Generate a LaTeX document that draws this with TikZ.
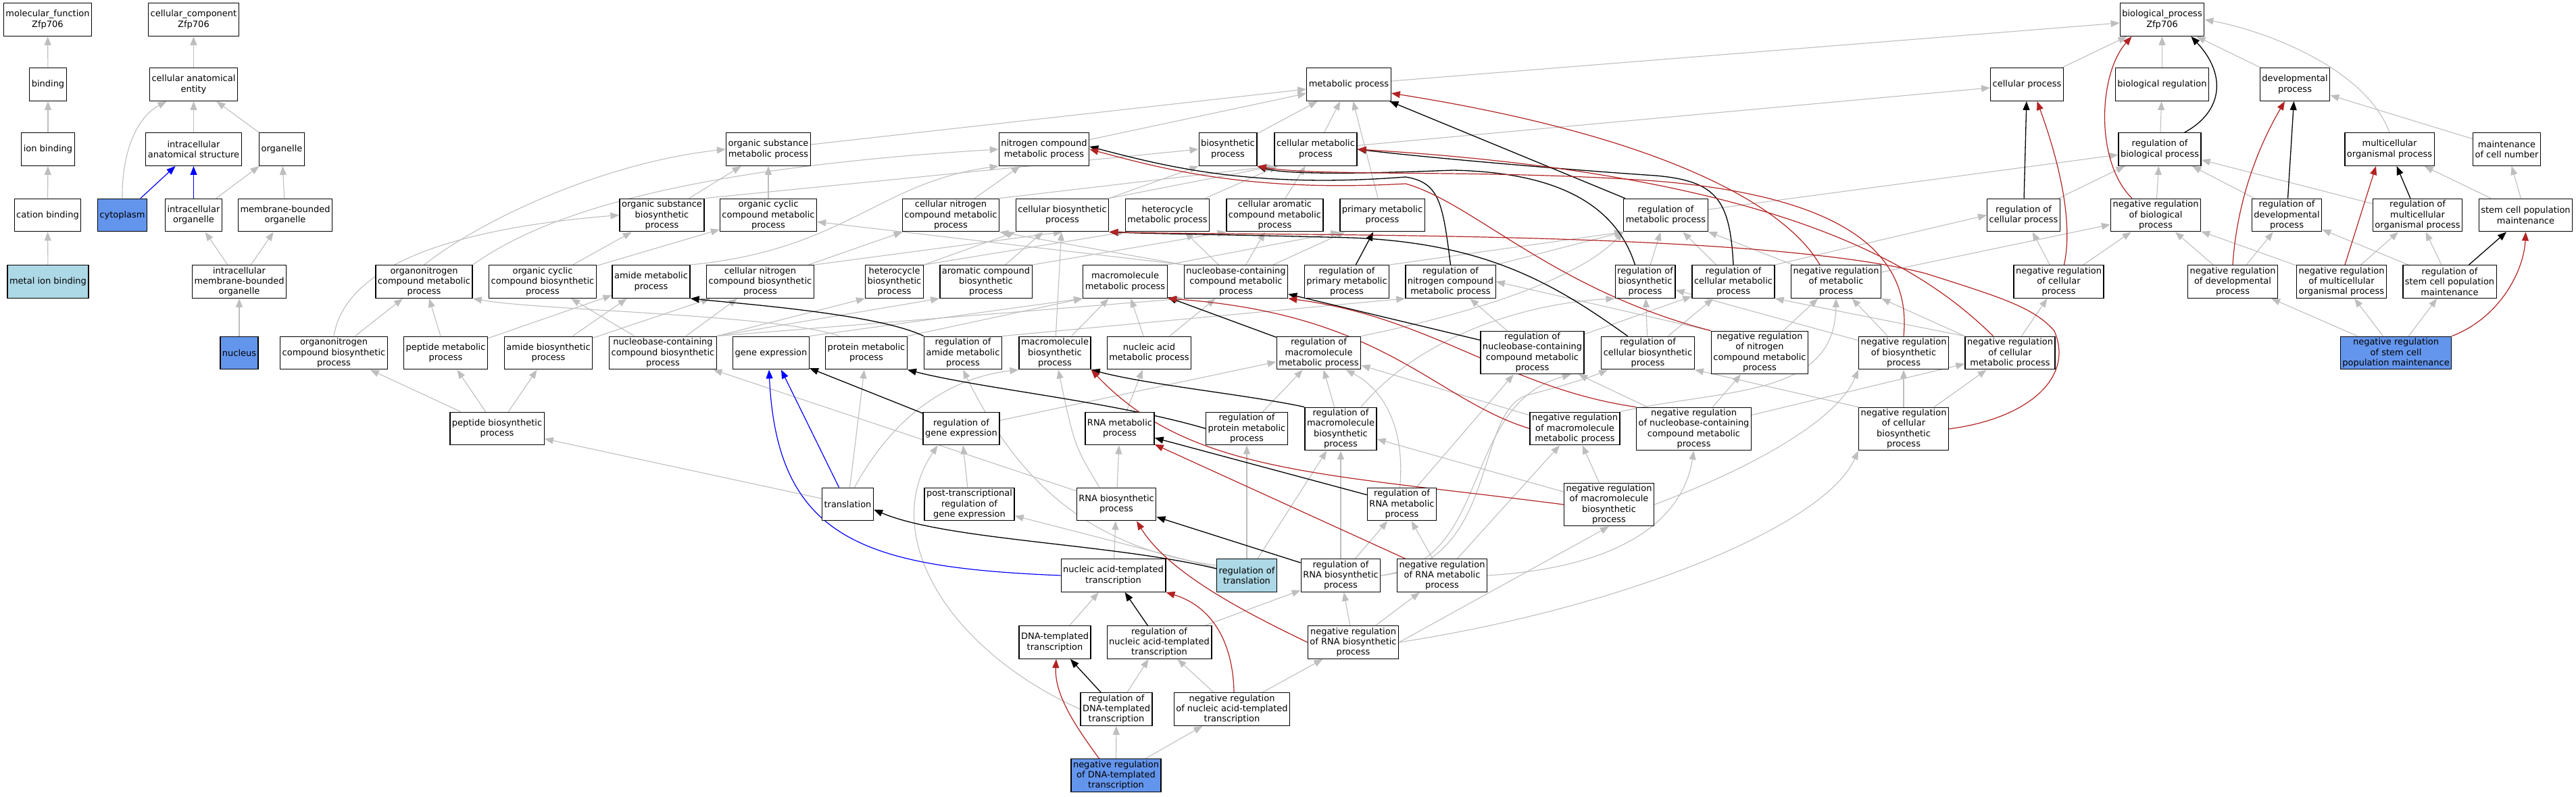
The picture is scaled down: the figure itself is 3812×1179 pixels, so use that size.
\documentclass[tikz,border=0pt]{standalone}
\usepackage{fontspec}
\setmainfont{DejaVu Sans}
\usetikzlibrary{arrows.meta}
\definecolor{isagray}{RGB}{190,190,190}
\definecolor{firebrick}{RGB}{178,34,34}
\definecolor{cornflower}{RGB}{100,149,237}
\definecolor{lightblue}{RGB}{173,216,230}
\pgfdeclarelayer{edges}
\pgfsetlayers{edges,main}

\begin{document}
\begin{tikzpicture}[x=1pt,y=-1pt,
    term/.style={draw=black,line width=1.3pt,fill=white,align=center,
      font=\fontsize{13}{15.3}\selectfont,inner xsep=3pt,inner ysep=1pt,
      minimum height=48.6pt},
    tallterm/.style={term,minimum height=63.5pt},
    hit/.style={fill=cornflower},
    seed/.style={fill=lightblue},
    isa/.style={draw=isagray,line width=1.1pt,-{Triangle[length=13pt,width=10pt]}},
    reg/.style={isa,draw=black,line width=1.3pt},
    negreg/.style={isa,draw=firebrick,line width=1.2pt},
    partof/.style={isa,draw=blue,line width=1.2pt}]

    \useasboundingbox (0,0) rectangle (3812,1179);

    % row 1
    \node[term] (mf) at (70.5,29) {molecular\_function\\Zfp706};
    \node[term] (cc) at (286.5,29) {cellular\_component\\Zfp706};
    \node[term] (bp) at (3199.5,29) {biological\_process\\Zfp706};
    % row 2
    \node[term] (bind) at (71,125) {binding};
    \node[term] (cae) at (286.5,125) {cellular anatomical\\entity};
    \node[term] (mp) at (1996,125) {metabolic process};
    \node[term] (cp) at (2999.5,125) {cellular process};
    \node[term] (breg) at (3199.5,125) {biological regulation};
    \node[term] (dev) at (3396,125) {developmental\\process};
    % row 3
    \node[term] (ionb) at (71,221) {ion binding};
    \node[term] (ias) at (286.5,221) {intracellular\\anatomical structure};
    \node[term] (org) at (417,221) {organelle};
    \node[term] (osmp) at (1137,221) {organic substance\\metabolic process};
    \node[term] (ncmp) at (1545,221) {nitrogen compound\\metabolic process};
    \node[term] (bsp) at (1817,221) {biosynthetic\\process};
    \node[term] (cmp) at (1947,221) {cellular metabolic\\process};
    \node[term] (rbp) at (3196,221) {regulation of\\biological process};
    \node[term] (mop) at (3536,221) {multicellular\\organismal process};
    \node[term] (mcn) at (3709.5,221) {maintenance\\of cell number};
    % row 4
    \node[term] (catb) at (70.5,318.5) {cation binding};
    \node[term,hit] (cyto) at (181,318.5) {cytoplasm};
    \node[term] (io) at (286.5,318.5) {intracellular\\organelle};
    \node[term] (mbo) at (422,318.5) {membrane-bounded\\organelle};
    \node[term] (osbp) at (979.5,318.5) {organic substance\\biosynthetic\\process};
    \node[term] (occmp) at (1137,318.5) {organic cyclic\\compound metabolic\\process};
    \node[term] (cncmp) at (1407,318.5) {cellular nitrogen\\compound metabolic\\process};
    \node[term] (cbp) at (1572,318.5) {cellular biosynthetic\\process};
    \node[term] (hmp) at (1727.5,318.5) {heterocycle\\metabolic process};
    \node[term] (cacmp) at (1886.5,318.5) {cellular aromatic\\compound metabolic\\process};
    \node[term] (pmp) at (2045.5,318.5) {primary metabolic\\process};
    \node[term] (rmp) at (2465,318.5) {regulation of\\metabolic process};
    \node[term] (rcp) at (2994.5,318.5) {regulation of\\cellular process};
    \node[term] (nrbp) at (3190,318.5) {negative regulation\\of biological\\process};
    \node[term] (rdp) at (3384,318.5) {regulation of\\developmental\\process};
    \node[term] (rmop) at (3577.5,318.5) {regulation of\\multicellular\\organismal process};
    \node[term] (scpm) at (3737.5,318.5) {stem cell population\\maintenance};
    % row 5
    \node[term,seed] (mib) at (71,417) {metal ion binding};
    \node[term] (imbo) at (354,417) {intracellular\\membrane-bounded\\organelle};
    \node[term] (oncmp) at (627.5,417) {organonitrogen\\compound metabolic\\process};
    \node[term] (occbp) at (803,417) {organic cyclic\\compound biosynthetic\\process};
    \node[term] (amp) at (963.5,417) {amide metabolic\\process};
    \node[term] (cncbp) at (1125,417) {cellular nitrogen\\compound biosynthetic\\process};
    \node[term] (hbp) at (1323.5,417) {heterocycle\\biosynthetic\\process};
    \node[term] (acbp) at (1459,417) {aromatic compound\\biosynthetic\\process};
    \node[term] (mmp) at (1665,417) {macromolecule\\metabolic process};
    \node[term] (nccmp) at (1829,417) {nucleobase-containing\\compound metabolic\\process};
    \node[term] (rpmp) at (1993,417) {regulation of\\primary metabolic\\process};
    \node[term] (rncmp) at (2146.5,417) {regulation of\\nitrogen compound\\metabolic process};
    \node[term] (rbsp) at (2434.5,417) {regulation of\\biosynthetic\\process};
    \node[term] (rcmp) at (2565,417) {regulation of\\cellular metabolic\\process};
    \node[term] (nrmp) at (2717,417) {negative regulation\\of metabolic\\process};
    \node[term] (nrcp) at (3046.5,417) {negative regulation\\of cellular\\process};
    \node[term] (nrdp) at (3304,417) {negative regulation\\of developmental\\process};
    \node[term] (nrmop) at (3465,417) {negative regulation\\of multicellular\\organismal process};
    \node[term] (rscpm) at (3625,417) {regulation of\\stem cell population\\maintenance};
    % row 6
    \node[term,hit] (nuc) at (354,522.5) {nucleus};
    \node[term] (oncbp) at (494,522.5) {organonitrogen\\compound biosynthetic\\process};
    \node[term] (pepmp) at (659.5,522.5) {peptide metabolic\\process};
    \node[term] (ambp) at (811.5,522.5) {amide biosynthetic\\process};
    \node[term] (nccbp) at (981,522.5) {nucleobase-containing\\compound biosynthetic\\process};
    \node[term] (gexp) at (1141,522.5) {gene expression};
    \node[term] (prmp) at (1282,522.5) {protein metabolic\\process};
    \node[term] (ramp) at (1425,522.5) {regulation of\\amide metabolic\\process};
    \node[term] (mbp) at (1561,522.5) {macromolecule\\biosynthetic\\process};
    \node[term] (namp) at (1700.5,522.5) {nucleic acid\\metabolic process};
    \node[term] (rmmp) at (1951.5,522.5) {regulation of\\macromolecule\\metabolic process};
    \node[tallterm] (rnccmp) at (2267.5,522) {regulation of\\nucleobase-containing\\compound metabolic\\process};
    \node[term] (rcbp) at (2438.5,522.5) {regulation of\\cellular biosynthetic\\process};
    \node[tallterm] (nrncmp) at (2604,522) {negative regulation\\of nitrogen\\compound metabolic\\process};
    \node[term] (nrbsp) at (2817,522.5) {negative regulation\\of biosynthetic\\process};
    \node[term] (nrcmp) at (2974.5,522.5) {negative regulation\\of cellular\\metabolic process};
    \node[term,hit] (nrscpm) at (3545.5,522.5) {negative regulation\\of stem cell\\population maintenance};
    % row 7
    \node[term] (pepbp) at (735.5,634.5) {peptide biosynthetic\\process};
    \node[term] (rgexp) at (1422.5,634.5) {regulation of\\gene expression};
    \node[term] (rnamp) at (1657,634.5) {RNA metabolic\\process};
    \node[term] (rprmp) at (1845,634.5) {regulation of\\protein metabolic\\process};
    \node[tallterm] (rmbp) at (1984,635) {regulation of\\macromolecule\\biosynthetic\\process};
    \node[term] (nrmmp) at (2330.5,634.5) {negative regulation\\of macromolecule\\metabolic process};
    \node[tallterm] (nrnccmp) at (2506.5,635) {negative regulation\\of nucleobase-containing\\compound metabolic\\process};
    \node[tallterm] (nrcbp) at (2817,635) {negative regulation\\of cellular\\biosynthetic\\process};
    % row 8
    \node[term] (trl) at (1254.5,746.5) {translation};
    \node[term] (ptr) at (1434.5,746.5) {post-transcriptional\\regulation of\\gene expression};
    \node[term] (rnabp) at (1652,746.5) {RNA biosynthetic\\process};
    \node[term] (rrnamp) at (2074.5,746.5) {regulation of\\RNA metabolic\\process};
    \node[tallterm] (nrmbp) at (2381,747) {negative regulation\\of macromolecule\\biosynthetic\\process};
    % row 9
    \node[term] (natt) at (1647.5,852) {nucleic acid-templated\\transcription};
    \node[term,seed] (rtrl) at (1845,852) {regulation of\\translation};
    \node[term] (rrnabp) at (1984,852) {regulation of\\RNA biosynthetic\\process};
    \node[term] (nrrnamp) at (2134,852) {negative regulation\\of RNA metabolic\\process};
    % rows 10 to 12
    \node[term] (dtt) at (1561,951) {DNA-templated\\transcription};
    \node[term] (rnatt) at (1715.5,951) {regulation of\\nucleic acid-templated\\transcription};
    \node[term] (nrrnabp) at (2002.5,951) {negative regulation\\of RNA biosynthetic\\process};
    \node[term] (rdtt) at (1652,1050) {regulation of\\DNA-templated\\transcription};
    \node[term] (nrnatt) at (1823,1050) {negative regulation\\of nucleic acid-templated\\transcription};
    \node[term,hit] (nrdtt) at (1651.5,1148) {negative regulation\\of DNA-templated\\transcription};

    \begin{pgfonlayer}{edges}
    % is_a
    \foreach \a/\b in {bind/mf, ionb/bind, catb/ionb, mib/catb, cae/cc, ias/cae, org/cae,
        io/org, mbo/org, imbo/io, imbo/mbo, nuc/imbo,
        mp/bp, cp/bp, breg/bp, dev/bp, rbp/breg, rcp/rbp, nrbp/rbp, rdp/rbp, rmop/rbp, rmp/rbp,
        mcn/dev, scpm/mcn, scpm/mop, rscpm/rdp, rscpm/rmop, nrdp/rdp, nrdp/nrbp, nrmop/rmop,
        nrmop/nrbp, nrscpm/nrdp, nrscpm/nrmop, nrscpm/rscpm,
        cmp/cp, rcmp.north east/rcp.west, nrmp/nrbp, nrcp/rcp, nrcp/nrbp,
        osmp/mp, ncmp/mp, bsp/mp, cmp/mp, pmp/mp,
        osbp/osmp, osbp.north east/bsp.west, occmp/osmp, cncmp/ncmp,
        cncmp.north east/cmp.south west, cbp.north east/bsp.south west,
        cbp.north east/cmp.south west, hmp/cmp, cacmp/cmp,
        pepmp/oncmp, pepmp/amp, ambp/amp, ambp/cncbp, pepbp/pepmp, pepbp/ambp, pepbp/oncbp,
        oncbp/oncmp, occbp/osbp, occbp/occmp, cncbp/cncmp, cncbp.north east/cbp.south,
        hbp.north east/hmp.south west, hbp.north east/cbp.south west,
        acbp.north east/cacmp.south west, acbp/cbp,
        nccbp.north east/nccmp.south west, nccbp.north east/hbp.south west,
        nccbp.north east/acbp.south west, nccbp/cncbp, nccbp/occbp,
        nccmp/hmp, nccmp/cacmp, nccmp.north west/cncmp.south east, nccmp/pmp,
        mmp.north east/pmp.south west, gexp.north east/mmp.south west,
        prmp.north east/mmp.south west, mbp/mmp, mbp/cbp, namp/nccmp, namp/mmp,
        rnamp/namp, rnabp/rnamp, rnabp/nccbp, natt/rnabp, dtt/natt,
        trl/pepbp, trl/prmp, ptr/rgexp, rgexp/rmmp,
        rtrl/ptr, rtrl/rprmp, rtrl/rmbp, rprmp/rmmp, rmbp/rmmp, ramp.north east/rncmp.south west,
        rpmp.north east/rmp.south west, rncmp.north east/rmp.south west, rbsp/rmp, rcmp/rmp,
        nrmp/rmp, rnccmp/rncmp, rnccmp/rcmp, rcbp/rbsp, rcbp/rcmp,
        nrncmp.north west/rncmp.east, nrncmp/nrmp, nrbsp/rbsp, nrbsp/nrmp,
        nrcmp.north west/rcmp.south east, nrcmp.north west/nrmp.south east, nrcmp/nrcp,
        nrmmp/rmmp, nrnccmp/rnccmp, nrnccmp/nrncmp, nrnccmp/nrcmp,
        nrcbp.north west/rcbp.south east, nrcbp/nrbsp, nrcbp/nrcmp,
        nrmbp/rmbp, nrmbp/nrmmp, rrnamp/rnccmp, rrnabp/rrnamp, rrnabp/rmbp,
        nrrnamp/rrnamp, nrrnamp/nrmmp, nrrnabp/rrnabp, nrrnabp/nrrnamp,
        nrrnabp.east/nrmbp.south, rnatt/rrnabp, rdtt/rnatt, nrnatt/rnatt,
        nrnatt/nrrnabp, nrdtt/rdtt, nrdtt/nrnatt}
      \draw[isa] (\a) -- (\b);
    \draw[isa] (nccmp.north west) -- ([yshift=-10]occmp.east);
    \draw[isa] (cyto.north) .. controls (180,230) and (200,175) .. ([xshift=-40]cae.south);
    \draw[isa] (mop.north) .. controls (3500,100) and (3350,45) .. (bp.east);
    \draw[isa] (oncbp.north) .. controls (510,400) and (650,340) .. (osbp.west);
    \draw[isa] (oncmp.north) .. controls (720,320) and (900,240) .. (osmp.west);
    \draw[isa] (oncmp.north east) .. controls (800,320) and (1000,250) .. (ncmp.west);
    \draw[isa] ([xshift=-40]prmp.north) .. controls (1150,465) and (800,460) .. (oncmp.south east);
    \draw[isa] (amp.north east) .. controls (1250,370) and (1300,270) .. (ncmp.south west);
    \draw[isa] ([yshift=15]rtrl.west) .. controls (1600,810) and (1500,700) .. (ramp.south);
    \draw[isa] ([xshift=10]trl.north) .. controls (1320,620) and (1400,560) .. (mbp.south west);
    \draw[isa] (rdtt.west) .. controls (1400,960) and (1300,790) .. ([xshift=-35]rgexp.south);
    \draw[isa] ([xshift=-25]rnabp.north) .. controls (1590,660) .. ([xshift=5]mbp.south);
    \draw[isa] ([xshift=30]rmbp.north) .. controls (2100,500) and (2250,450) .. (rbsp.south west);
    \draw[isa] (rmmp.north east) .. controls (2150,470) and (2330,420) .. (rmp.south west);
    \draw[isa] (nrmmp.north east) .. controls (2550,575) and (2715,590) .. (nrmp.south);
    \draw[isa] (nrmbp.east) .. controls (2600,690) and (2720,620) .. (nrbsp.south west);
    \draw[isa] ([xshift=-3]rrnamp.north) .. controls (2080,630) and (2045,575) .. ([xshift=40]rmmp.south);
    \draw[isa] (rrnabp.east) .. controls (2210,830) and (2160,600) .. ([xshift=-20]rnccmp.south east);
    \draw[isa] (rrnabp.east) .. controls (2220,835) and (2180,610) .. (2260,585)
      .. controls (2310,572) and (2350,560) .. ([xshift=10]rcbp.south west);
    \draw[isa] (nrrnamp.east) .. controls (2400,840) and (2490,770) .. (nrnccmp.south);
    \draw[isa] (nrrnabp.east) .. controls (2400,900) and (2700,780) .. (nrcbp.south west);

    % regulates
    \foreach \a/\b in {rcp/cp, rmp/mp, rdp/dev, rmop/mop, rscpm/scpm, rpmp/pmp, rmmp/mmp,
        rnccmp/nccmp, rgexp/gexp, rrnamp/rnamp, rrnabp/rnabp, rnatt/natt, rdtt/dtt}
      \draw[reg] (\a) -- (\b);
    \draw[reg] ([xshift=-25]rbp.north east) .. controls (3290,165) and (3295,110) .. ([xshift=-20]bp.south east);
    \draw[reg] (rncmp.north) .. controls (2135,300) and (2130,270) .. (2080,262)
      .. controls (1850,280) and (1720,245) .. ([yshift=4]ncmp.east);
    \draw[reg] (rcmp.north) .. controls (2560,295) and (2540,268) .. (2450,260)
      .. controls (2300,250) and (2100,232) .. (cmp.east);
    \draw[reg] ([xshift=-15]rbsp.north) .. controls (2390,300) and (2300,255) .. (2150,252)
      .. controls (2000,258) and (1900,258) .. (bsp.south east);
    \draw[reg] (ramp.north west) .. controls (1300,465) and (1100,450) .. (amp.south east);
    \draw[reg] (rprmp.west) .. controls (1650,595) and (1450,575) .. (prmp.south east);
    \draw[reg] (rmbp.north west) .. controls (1850,585) and (1700,570) .. (mbp.south east);
    \draw[reg] ([yshift=10]rtrl.west) .. controls (1650,805) and (1400,800) .. ([yshift=-8]trl.east);
    \draw[reg] ([xshift=-30]rcbp.north) .. controls (2300,420) and (2200,360) .. (2000,352)
      .. controls (1850,348) and (1700,346) .. (cbp.south east);

    % negatively regulates
    \draw[negreg] ([xshift=5]nrmop.north) -- ([xshift=-20]mop.south);
    \draw[negreg] (nrrnamp) -- (rnamp);
    \draw[negreg] ([xshift=-35]nrbp.north) .. controls (3100,240) and (3105,110) .. ([xshift=-45]bp.south);
    \draw[negreg] ([xshift=8]nrcp.north) .. controls (3070,320) and (3040,220) .. ([xshift=15]cp.south);
    \draw[negreg] ([xshift=-24]nrmp.north) .. controls (2640,300) and (2450,200) .. ([yshift=-13]mp.east);
    \draw[negreg] (nrdp.north) .. controls (3310,300) and (3340,220) .. ([xshift=-15]dev.south);
    \draw[negreg] (nrscpm.north east) .. controls (3700,470) and (3735,400) .. (scpm.south);
    \draw[negreg] (nrncmp.north west) .. controls (2300,430) and (2180,300) .. (2080,272)
      .. controls (1850,285) and (1720,250) .. (ncmp.east);
    \draw[negreg] (nrbsp.north) .. controls (2830,370) and (2720,290) .. (2450,268)
      .. controls (2200,250) and (1950,262) .. (bsp.south east);
    \draw[negreg] ([xshift=-25]nrcmp.north) .. controls (2850,400) and (2650,260) .. (cmp.east);
    \draw[negreg] (nrcbp.east) .. controls (3000,620) and (3070,560) .. (3040,490)
      .. controls (3010,455) and (2960,440) .. (2850,405)
      .. controls (2600,340) and (1900,350) .. (cbp.south east);
    \draw[negreg] (nrmmp.west) .. controls (2120,590) and (2050,465) .. (mmp.south east);
    \draw[negreg] (nrnccmp.north west) .. controls (2230,575) and (2120,470) .. (nccmp.south east);
    \draw[negreg] (nrmbp.west) .. controls (1950,700) and (1760,700) .. (mbp.south east);
    \draw[negreg] (nrrnabp.west) .. controls (1850,910) and (1730,850) .. ([xshift=30]rnabp.south);
    \draw[negreg] ([xshift=3]nrnatt.north) .. controls (1825,960) and (1800,900) .. (natt.south east);
    \draw[negreg] ([xshift=-25]nrdtt.north) .. controls (1595,1080) and (1560,1030) .. ([xshift=2]dtt.south);

    % part of
    \draw[partof] (cyto) -- (ias);
    \draw[partof] (io) -- (ias);
    \draw[partof] ([xshift=-13]trl.north) -- ([xshift=15]gexp.south);
    \draw[partof] (natt.west) .. controls (1280,840) and (1150,800) .. ([xshift=-3]gexp.south);
    \end{pgfonlayer}
\end{tikzpicture}
\end{document}
